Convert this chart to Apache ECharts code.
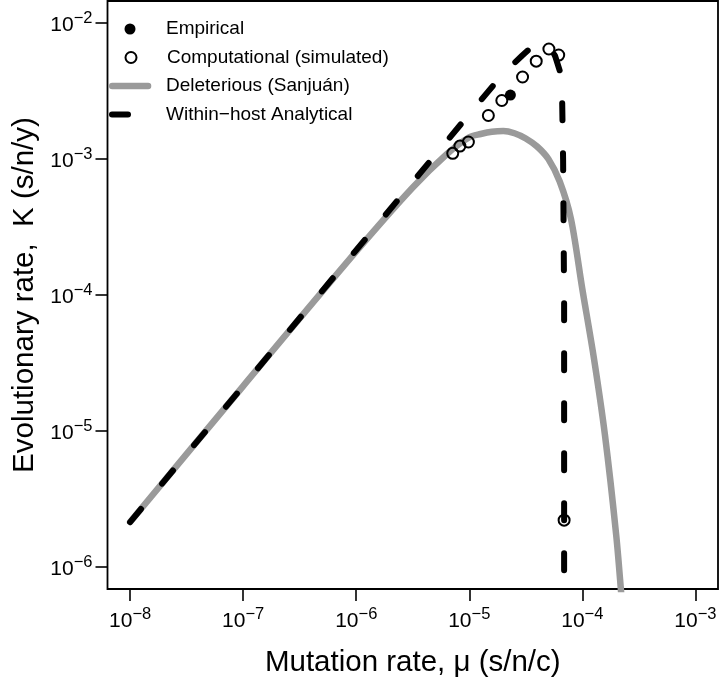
<!DOCTYPE html>
<html><head><meta charset="utf-8">
<script src="https://cdn.jsdelivr.net/npm/echarts@6/dist/echarts.min.js"></script>
<style>html,body{margin:0;padding:0;background:#fff}#c{width:720px;height:682px}</style>
</head><body><div id="c"></div>
<script>
// ---- data ----
const xTicks = [1e-8, 1e-7, 1e-6, 1e-5, 1e-4, 1e-3];
const yTicks = [1e-6, 1e-5, 1e-4, 1e-3, 1e-2];

// Deleterious (Sanjuán) curve
const delMu = [1e-8, 1e-7, 1e-6, 3.16e-6, 6.31e-6, 1e-5, 1.26e-5, 1.585e-5, 2e-5, 2.51e-5, 3.16e-5, 3.98e-5, 5.01e-5, 6.31e-5, 7.94e-5, 1e-4, 1.26e-4, 1.585e-4, 2e-4, 2.24e-4, 2.4e-4];
const delK  = [2.13e-6, 2.13e-5, 2.08e-4, 6.14e-4, 1.08e-3, 1.44e-3, 1.52e-3, 1.58e-3, 1.60e-3, 1.54e-3, 1.41e-3, 1.23e-3, 9.95e-4, 6.8e-4, 3.6e-4, 1.1e-4, 3.5e-5, 9.3e-6, 1.66e-6, 5.5e-7, 2.9e-7];

// Within-host analytical curve
const anaMu = [1e-8, 1e-7, 1e-6, 1e-5, 2e-5, 2.94e-5, 3.53e-5, 4.33e-5, 5.09e-5, 5.75e-5, 6.37e-5, 6.63e-5, 6.76e-5, 6.9e-5, 6.9e-5];
const anaK  = [2.13e-6, 2.13e-5, 2.13e-4, 2.13e-3, 4.23e-3, 5.74e-3, 6.58e-3, 6.97e-3, 6.74e-3, 5.69e-3, 4.34e-3, 2.70e-3, 9.8e-4, 9.1e-5, 5e-7];

// Computational (simulated) points
const simMu = [7.14e-6, 8.26e-6, 9.82e-6, 1.475e-5, 1.94e-5, 2.96e-5, 3.91e-5, 5.06e-5, 6.18e-5, 6.9e-5];
const simK  = [1.096e-3, 1.239e-3, 1.328e-3, 2.08e-3, 2.68e-3, 3.99e-3, 5.22e-3, 6.41e-3, 5.79e-3, 2.20e-6];

// Empirical points
const empMu = [2.31e-5];
const empK  = [2.94e-3];

const seriesNames = ['Empirical', 'Computational (simulated)', 'Deleterious (Sanju\u00e1n)', 'Within\u2212host Analytical'];
const xTitle = 'Mutation rate, \u03bc (s/n/c)';
const yTitle = 'Evolutionary rate,  K (s/n/y)';

// ---- chart ----
const FONT = '"Liberation Sans", Arial, Helvetica, sans-serif';
const zip = (a, b) => a.map((v, i) => [v, b[i]]);
function expLabel(v) {
  const n = Math.round(Math.log10(v));
  return '{b|10}{s|' + (n < 0 ? '\u2212' : '') + Math.abs(n) + '}';
}
const rich = {
  b: { fontSize: 21, fontFamily: FONT, color: '#000', lineHeight: 21, verticalAlign: 'bottom' },
  s: { fontSize: 16.5, fontFamily: FONT, color: '#000', padding: [0, 0, 9, 0], verticalAlign: 'bottom' }
};
const EXT = 'M0,0M52,12';
const ICONS = {
  dot: 'path://' + EXT + 'M26.5,6A5.5,5.5,0,1,1,15.5,6A5.5,5.5,0,1,1,26.5,6Z',
  ring: 'path://' + EXT + 'M26.5,6A5.5,5.5,0,1,1,15.5,6A5.5,5.5,0,1,1,26.5,6Z',
  grey: 'path://' + EXT + 'M3,2.75H39A3.25,3.25,0,0,1,39,9.25H3A3.25,3.25,0,0,1,3,2.75Z',
  dash: 'path://' + EXT + 'M3,3H19A3,3,0,0,1,19,9H3A3,3,0,0,1,3,3Z'
};
function mkLegend(name, icon, top) {
  return {
    data: [{ name: name, icon: icon }], left: 109, top: top, orient: 'horizontal',
    itemWidth: 52, itemHeight: 12, padding: 0, itemGap: 0, selectedMode: false,
    textStyle: { fontSize: 19, fontFamily: FONT, color: '#000', lineHeight: 20 }
  };
}
const chart = echarts.init(document.getElementById('c'), null, { renderer: 'canvas' });
chart.setOption({
  animation: false,
  backgroundColor: '#fff',
  grid: { left: 107.5, top: 1, width: 610.5, height: 588, show: true, borderColor: '#000', borderWidth: 1.8, containLabel: false, outerBoundsMode: 'none' },
  legend: [
    mkLegend(seriesNames[0], ICONS.dot, 19),
    mkLegend(seriesNames[1], ICONS.ring, 47.5),
    mkLegend(seriesNames[2], ICONS.grey, 76),
    mkLegend(seriesNames[3], ICONS.dash, 104.5)
  ],
  xAxis: {
    type: 'log', logBase: 10, min: Math.pow(10, -8.2), max: Math.pow(10, -2.8),
    axisLine: { show: false }, splitLine: { show: false },
    axisTick: { show: true, inside: false, length: 12, lineStyle: { color: '#000', width: 1.6 }, customValues: xTicks },
    axisLabel: { customValues: xTicks, formatter: expLabel, rich: rich, margin: 17, color: '#000' },
    name: xTitle, nameLocation: 'middle', nameGap: 59,
    nameTextStyle: { fontSize: 29.5, fontFamily: FONT, color: '#000' }
  },
  yAxis: {
    type: 'log', logBase: 10, min: Math.pow(10, -6.164), max: Math.pow(10, -1.84),
    axisLine: { show: false }, splitLine: { show: false },
    axisTick: { show: true, inside: false, length: 12, lineStyle: { color: '#000', width: 1.6 }, customValues: yTicks },
    axisLabel: { customValues: yTicks, formatter: expLabel, rich: rich, margin: 15, color: '#000' },
    name: yTitle, nameLocation: 'middle', nameGap: 67,
    nameTextStyle: { fontSize: 29.5, fontFamily: FONT, color: '#000' }
  },
  series: [
    {
      name: seriesNames[2], type: 'line', data: zip(delMu, delK), symbol: 'none', smooth: 0.3,
      lineStyle: { color: '#9a9a9a', width: 6.5, cap: 'round', join: 'round' },
      itemStyle: { color: '#9a9a9a', borderWidth: 0 }, z: 2, emphasis: { disabled: true }
    },
    {
      name: seriesNames[1], type: 'scatter', data: zip(simMu, simK), symbol: 'circle', symbolSize: 11,
      itemStyle: { color: 'rgba(255,255,255,0)', borderColor: '#000', borderWidth: 2, opacity: 1 }, z: 3, emphasis: { disabled: true }
    },
    {
      name: seriesNames[0], type: 'scatter', data: zip(empMu, empK), symbol: 'circle', symbolSize: 11,
      itemStyle: { color: '#000', borderWidth: 0, opacity: 1 }, z: 4, emphasis: { disabled: true }
    },
    {
      name: seriesNames[3], type: 'line', data: zip(anaMu, anaK), symbol: 'none', smooth: false,
      lineStyle: { color: '#000', width: 6, type: [17, 33], cap: 'round', join: 'round' },
      itemStyle: { color: '#000', borderWidth: 0 }, z: 5, emphasis: { disabled: true }
    }
  ]
});
</script></body></html>
